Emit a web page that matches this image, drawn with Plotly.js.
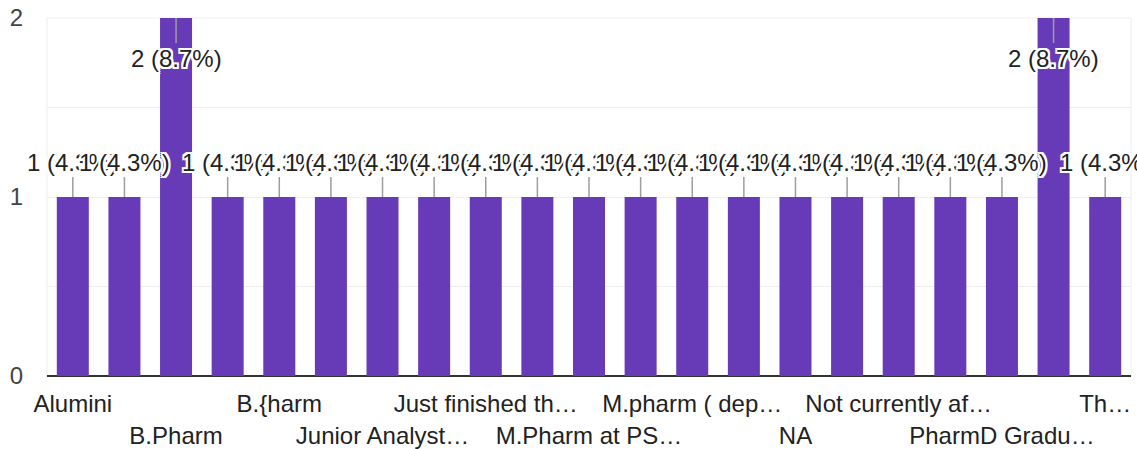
<!DOCTYPE html>
<html>
<head>
<meta charset="utf-8">
<script src="https://cdn.plot.ly/plotly-3.0.1.min.js"></script>
<style>html,body{margin:0;padding:0;background:#fff;}#chart{width:1137px;height:449px;}</style>
</head>
<body>
<div id="chart"></div>
<script>
// Categories (odd-indexed names are not shown in the reference; their labels are hidden)
const categories = [
  "Alumini", "B Pharmacy", "B.Pharm", "B.Pharm graduate", "B.{harm",
  "Industry professional", "Junior Analyst", "Junior Associate", "Just finished the course",
  "M.Pharm", "M.Pharm at PSG", "M.Pharm student", "M.pharm ( department )",
  "M.pharm student", "NA", "Nil", "Not currently affiliated", "PharmD",
  "PharmD Graduate", "Student", "The"
];
const values = [1, 1, 2, 1, 1, 1, 1, 1, 1, 1, 1, 1, 1, 1, 1, 1, 1, 1, 1, 2, 1];

// Tick labels shown on the x axis (two staggered rows)
const row1Index = [0, 4, 8, 12, 16, 20];
const row1Labels = ["Alumini", "B.{harm", "Just finished th…", "M.pharm ( dep…", "Not currently af…", "Th…"];
const row2Index = [2, 6, 10, 14, 18];
const row2Labels = ["B.Pharm", "Junior Analyst…", "M.Pharm at PS…", "NA", "PharmD Gradu…"];

const yTickVals = [0, 0.5, 1, 1.5, 2];
const yTickText = ["0", "", "1", "", "2"];

const total = values.reduce((a, b) => a + b, 0);
const yMax = 2;
const xRange = [-0.5, categories.length - 0.5];
const FONT = "Arial, 'Liberation Sans', sans-serif";
const halo = "2px 0 0 #fff, -2px 0 0 #fff, 0 2px 0 #fff, 0 -2px 0 #fff, 2px 2px 0 #fff, -2px -2px 0 #fff, 2px -2px 0 #fff, -2px 2px 0 #fff";

const annotations = values.map((v, i) => ({
  x: categories[i], y: v, xref: "x", yref: "y",
  text: v + " (" + (v / total * 100).toFixed(1) + "%)",
  showarrow: true, arrowhead: 0, arrowwidth: 1.5, arrowcolor: "#9e9e9e",
  standoff: 0, ax: 0, ay: v >= yMax ? 40 : -35,
  font: {family: FONT, size: 24, color: "#222222", shadow: halo}
}));

const traces = [
  {
    type: "bar", x: categories, y: values,
    marker: {color: "#673ab7"}, hoverinfo: "skip", cliponaxis: true
  },
  {
    type: "scatter", mode: "markers", x: row2Index, y: row2Index.map(i => values[i]),
    xaxis: "x2", yaxis: "y", marker: {opacity: 0}, hoverinfo: "skip", showlegend: false
  }
];

const layout = {
  width: 1137, height: 449,
  margin: {l: 47, r: 6, t: 18, b: 73},
  paper_bgcolor: "#ffffff", plot_bgcolor: "#ffffff",
  showlegend: false, bargap: 0.38,
  font: {family: FONT, color: "#222222"},
  xaxis: {
    type: "category", categoryorder: "array", categoryarray: categories,
    range: xRange, autorange: false,
    tickmode: "array", tickvals: row1Index.map(i => categories[i]), ticktext: row1Labels,
    tickfont: {family: FONT, size: 24, color: "#222222"},
    showgrid: false, showline: false, ticks: "", ticklabelstandoff: 11,
    automargin: false, fixedrange: true
  },
  xaxis2: {
    type: "linear", overlaying: "x", anchor: "y", side: "bottom",
    range: xRange, autorange: false,
    tickmode: "array", tickvals: row2Index, ticktext: row2Labels,
    tickfont: {family: FONT, size: 24, color: "#222222"},
    showgrid: false, showline: false, zeroline: false, ticks: "", ticklabelstandoff: 43,
    automargin: false
  },
  yaxis: {
    range: [0, yMax], autorange: false, tickmode: "array", tickvals: yTickVals, ticktext: yTickText,
    tickfont: {family: FONT, size: 24, color: "#444444"},
    showgrid: true, gridcolor: "#eeeeee", gridwidth: 1,
    zeroline: true, zerolinecolor: "#333333", zerolinewidth: 2,
    showline: false, ticks: "", ticklabelstandoff: 23, automargin: false
  },
  shapes: [
    {type: "rect", xref: "paper", yref: "paper", x0: 0, x1: 1, y0: 0, y1: 1,
     line: {color: "#eeeeee", width: 1}, layer: "below"}
  ],
  annotations: annotations
};

Plotly.newPlot("chart", traces, layout, {displayModeBar: false, staticPlot: true});
</script>
</body>
</html>
